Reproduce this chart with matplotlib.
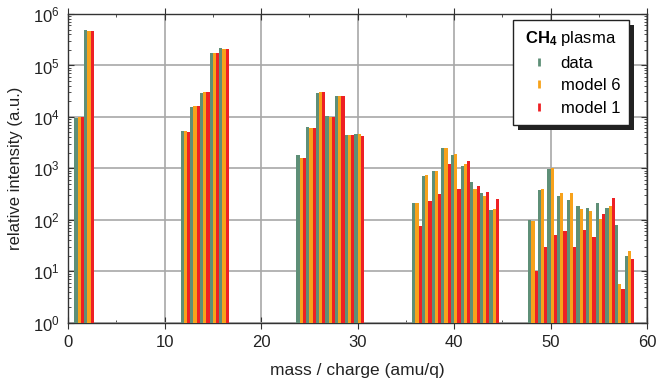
"""Mass spectrum of a CH4 plasma: measured data against two models."""
import matplotlib

matplotlib.use("Agg")
import matplotlib.pyplot as plt
import numpy as np
from matplotlib.lines import Line2D
from matplotlib.patches import Rectangle
from matplotlib.ticker import LogLocator, MultipleLocator, NullFormatter

plt.rcParams["font.family"] = ["Liberation Sans", "DejaVu Sans"]
plt.rcParams["mathtext.fontset"] = "custom"
plt.rcParams["mathtext.rm"] = "Liberation Sans"
plt.rcParams["mathtext.bf"] = "Liberation Sans:bold"

masses = [1, 2, 12, 13, 14, 15, 16, 24, 25, 26, 27, 28, 29, 30,
          36, 37, 38, 39, 40, 41, 42, 43, 44,
          48, 49, 50, 51, 52, 53, 54, 55, 56, 57, 58]
data = [9600, 490000, 5300, 15500, 28700, 174000, 215000,
        1820, 6450, 29200, 10400, 25500, 4390, 4720,
        215, 710, 888, 2480, 1820, 1100, 535, 333, 155,
        100, 385, 990, 290, 243, 188, 172, 215, 167, 78, 18.7]
model6 = [10000, 470000, 5300, 16300, 30300, 172000, 210000,
          1590, 6100, 30000, 10000, 25500, 4450, 4650,
          212, 745, 888, 2480, 1870, 1215, 395, 290, 162,
          95, 397, 1000, 327, 327, 162, 148, 104, 182, 4.7, 23.4]
model1 = [10200, 470000, 5100, 16300, 30300, 172000, 210000,
          1630, 6100, 30500, 9900, 25500, 4450, 4310,
          76, 232, 318, 1230, 395, 1380, 454, 352, 250,
          9.2, 28.3, 51, 59, 28.3, 63, 46, 129, 265, 3.45, 16.5]

series = [("data", data, "#5e8f77"),
          ("model 6", model6, "#f7a21b"),
          ("model 1", model1, "#ee2024")]

fig = plt.figure(figsize=(6.57, 3.89), dpi=100)
ax = fig.add_axes([0.1035, 0.17, 0.8815, 0.794])

x = np.array(masses, dtype=float)
width = 1 / 3
for i, (label, values, color) in enumerate(series):
    ax.bar(x - width + i * width, values, width=width, align="edge",
           color=color, edgecolor="none", bottom=1, zorder=3)

ax.set_yscale("log")
ax.set_xlim(0, 60)
ax.set_ylim(1, 1e6)
ax.xaxis.set_major_locator(MultipleLocator(10))
ax.xaxis.set_minor_locator(MultipleLocator(5))
ax.yaxis.set_major_locator(LogLocator(base=10, numticks=10))
ax.yaxis.set_minor_locator(LogLocator(base=10, subs=np.arange(2, 10), numticks=10))
ax.yaxis.set_minor_formatter(NullFormatter())
ax.grid(True, which="major", color="#a8a8a8", linewidth=1.2, zorder=0)
ax.tick_params(which="both", direction="in", top=True, right=True,
               labelsize=12, colors="#333333", labelcolor="#222222")
ax.tick_params(axis="x", which="major", direction="inout", length=8, pad=5)
ax.tick_params(axis="y", which="major", length=4, pad=6)
ax.tick_params(which="minor", length=2.5)
for spine in ax.spines.values():
    spine.set_color("#333333")
    spine.set_linewidth(1.0)

ax.set_xlabel("mass / charge (amu/q)", fontsize=12.5, color="#222222",
              labelpad=9)
ax.set_ylabel("relative intensity (a.u.)", fontsize=12, color="#222222",
              labelpad=7)

handles = [Line2D([], [], linestyle="none", marker="|", markersize=6,
                  markeredgewidth=2, color=color, label=label)
           for label, _, color in series]
leg = ax.legend(handles=handles, title=r"$\mathbf{CH_4}$ plasma",
                loc="upper right", bbox_to_anchor=(0.969, 0.981),
                borderaxespad=0, fontsize=12, title_fontsize=12,
                frameon=True, fancybox=False, handlelength=2.0,
                handletextpad=0.3, borderpad=0.55, labelspacing=0.45)
leg.get_frame().set_edgecolor("#222222")
leg.get_frame().set_linewidth(1.0)
leg.get_frame().set_alpha(1)
leg.set_zorder(5)

# offset dark shadow behind the legend box
fig.canvas.draw()
box = leg.get_frame().get_window_extent()
shadow = Rectangle((box.x0 + 5, box.y0 - 5), box.width, box.height,
                   transform=None, facecolor="#222222", edgecolor="none",
                   zorder=4.5)
ax.add_artist(shadow)

fig.savefig("out.png", dpi=100)
plt.close(fig)
